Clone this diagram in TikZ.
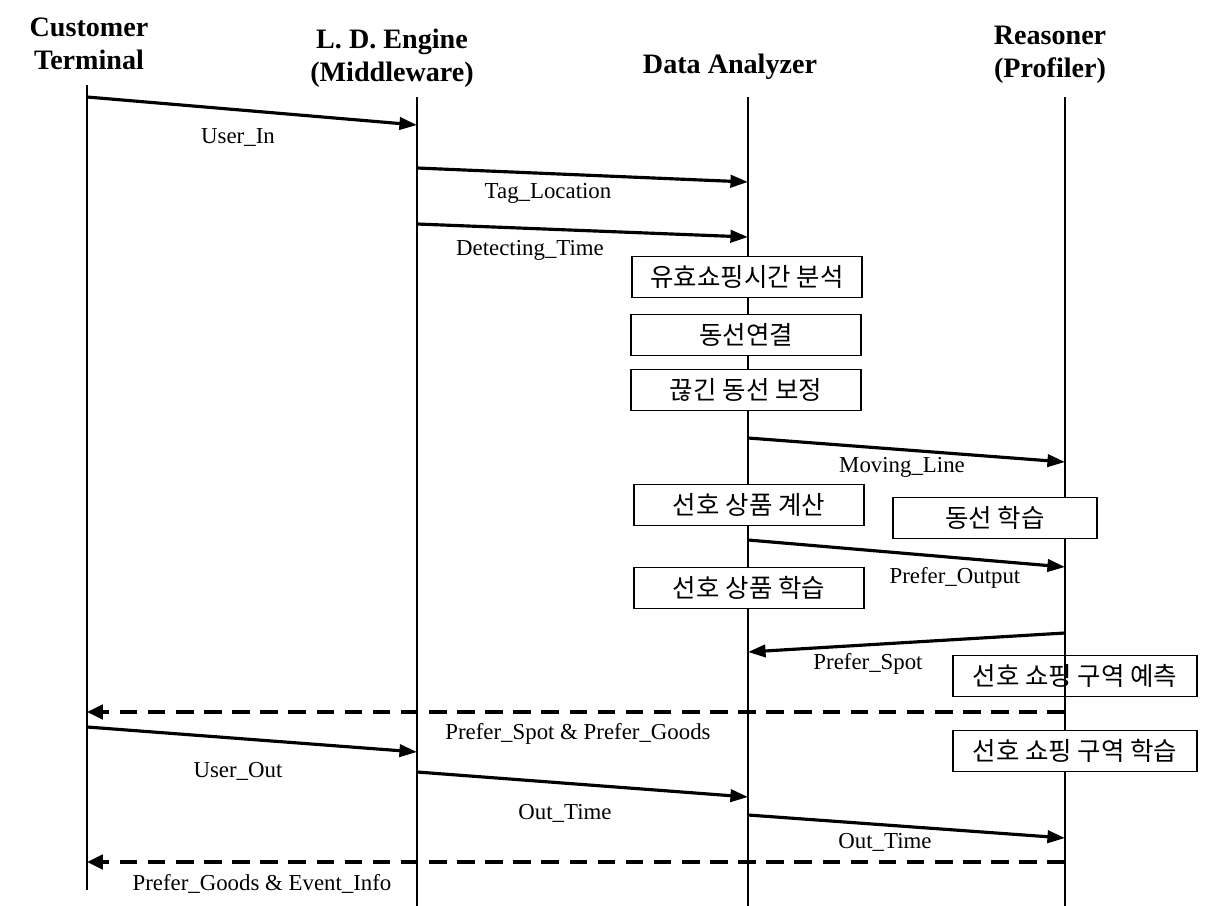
\documentclass[tikz,border=0pt]{standalone}
\usepackage{fontspec}
\setmainfont{Liberation Serif}
\newfontfamily\kr{Noto Sans CJK KR}
\usetikzlibrary{arrows.meta, positioning}

\tikzset{
  head/.style={font=\fontsize{16}{19}\selectfont\bfseries, align=center},
  life/.style={line width=1pt},
  msg/.style={line width=1.8pt, -{Triangle[length=10pt, width=7pt]}},
  reply/.style={line width=2.4pt, dash pattern=on 10pt off 6pt,
                -{Triangle[length=9pt, width=8pt]}},
  lbl/.style={font=\fontsize{13}{15}\selectfont},
  proc/.style={draw, line width=1pt, fill=white, inner sep=0pt,
               font=\kr\fontsize{14.5}{16}\selectfont,
               minimum width=4.6cm, minimum height=0.82cm}
}

\begin{document}
\begin{tikzpicture}[x=0.02cm, y=-0.02cm]
  \useasboundingbox (0,0) rectangle (1215,906);

  % headers
  \node[head] (hct) at (89,44)   {Customer\\Terminal};
  \node[head] (hld) at (392,58)  {L. D. Engine\\(Middleware)};
  \node[head] (hda) at (730,67)  {Data Analyzer};
  \node[head] (hrs) at (1050,55) {Reasoner\\(Profiler)};

  % lifelines
  \foreach \n/\x/\t/\b in {ct/87/85/890, ld/417/97/906,
                           da/748/97/906, rs/1065/97/906} {
    \coordinate (\n top) at (\x,\t);
    \coordinate (\n bot) at (\x,\b);
    \draw[life] (\n top) -- (\n bot);
  }

  % message end points
  \foreach \n/\x/\y in {a1/87/97,   a2/417/125,
                        b1/417/168, b2/748/182,
                        c1/417/224, c2/748/237,
                        d1/748/438, d2/1065/462,
                        e1/748/540, e2/1065/567,
                        f1/1065/633, f2/748/652,
                        g1/1065/712, g2/87/712,
                        h1/87/727,  h2/417/752,
                        i1/417/772, i2/748/797,
                        j1/748/815, j2/1065/838,
                        k1/1065/862, k2/87/862} {
    \coordinate (\n) at (\x,\y);
  }

  % process boxes
  \node[proc] (pTime)  at (747,277) {유효쇼핑시간 분석};
  \node[proc] (pLink)  at (746,335) {동선연결};
  \node[proc] (pFix)   at (746,390) {끊긴 동선 보정};
  \node[proc] (pCalc)  at (749,505) {선호 상품 계산};
  \node[proc] (pGoods) at (749,588) {선호 상품 학습};
  \node[proc, minimum width=4.08cm] (pLine) at (995,518) {동선 학습};
  \node[proc, minimum width=4.88cm, fill=none] (pPred) at (1075,676) {선호 쇼핑 구역 예측};
  \node[proc, minimum width=4.88cm] (pZone) at (1075,751) {선호 쇼핑 구역 학습};

  % messages
  \draw[msg] (a1) -- (a2);
  \draw[msg] (b1) -- (b2);
  \draw[msg] (c1) -- (c2);
  \draw[msg] (d1) -- (d2);
  \draw[msg] (e1) -- (e2);
  \draw[msg] (f1) -- (f2);
  \draw[reply] (g1) -- (g2);
  \draw[msg] (h1) -- (h2);
  \draw[msg] (i1) -- (i2);
  \draw[msg] (j1) -- (j2);
  \draw[reply] (k1) -- (k2);

  % labels
  \node[lbl] (lUserIn)  at (238,137) {User\_In};
  \node[lbl] (lTag)     at (548,193) {Tag\_Location};
  \node[lbl] (lDetect)  at (530,250) {Detecting\_Time};
  \node[lbl] (lMove)    at (902,467) {Moving\_Line};
  \node[lbl] (lOutput)  at (955,578) {Prefer\_Output};
  \node[lbl] (lSpot)    at (868,664) {Prefer\_Spot};
  \node[lbl] (lSpotGds) at (578,734) {Prefer\_Spot \& Prefer\_Goods};
  \node[lbl] (lUserOut) at (238,771) {User\_Out};
  \node[lbl] (lOutA)    at (565,813) {Out\_Time};
  \node[lbl] (lOutB)    at (885,842) {Out\_Time};
  \node[lbl] (lGdsEvt)  at (262,884) {Prefer\_Goods \& Event\_Info};
\end{tikzpicture}
\end{document}
